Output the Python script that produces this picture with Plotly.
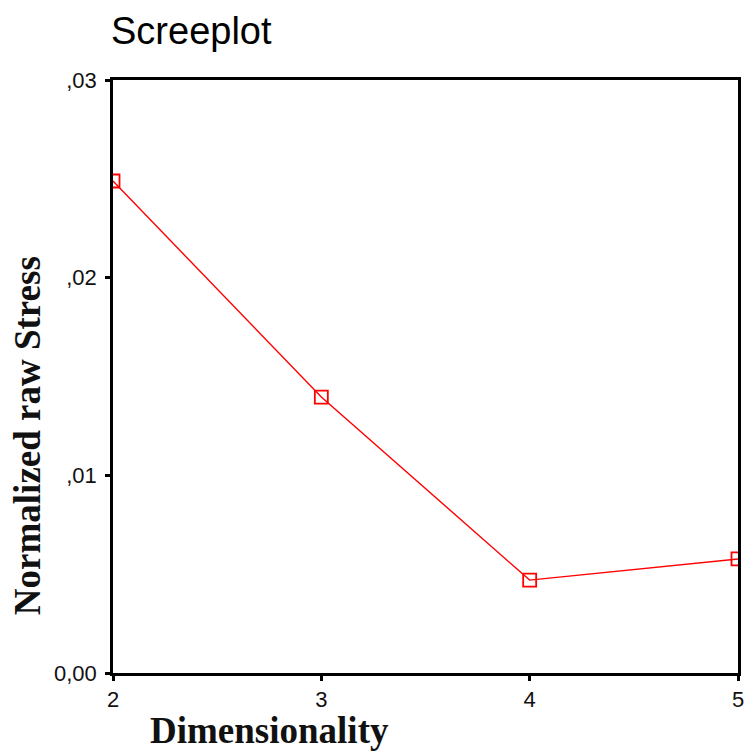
import plotly.graph_objects as go

dimensions = [2, 3, 4, 5]
stress = [0.02489, 0.01396, 0.00470, 0.00577]
y_tick_vals = [0.0, 0.01, 0.02, 0.03]
y_tick_text = ["0,00", ",01", ",02", ",03"]
x_tick_vals = [2, 3, 4, 5]
x_tick_text = ["2", "3", "4", "5"]

W, H = 744, 754

fig = go.Figure()
fig.add_trace(go.Scatter(
    x=dimensions, y=stress, mode="lines+markers",
    line=dict(color="#ff0000", width=1.4),
    marker=dict(symbol="square-open", size=13, color="#ff0000", line=dict(width=1.8, color="#ff0000")),
    cliponaxis=True, showlegend=False,
))

fig.update_layout(
    width=W, height=H,
    margin=dict(l=113, r=6, t=80, b=81, autoexpand=False),
    paper_bgcolor="white", plot_bgcolor="white",
    title=dict(text="Screeplot", font=dict(family="Arial, Liberation Sans", size=38, color="black"),
               xref="container", yref="container", x=111/W, xanchor="left", y=1-17/H, yanchor="top",
               pad=dict(t=0, b=0, l=0, r=0), automargin=False),
    xaxis=dict(range=[2, 5], tickvals=x_tick_vals, ticktext=x_tick_text, automargin=False,
               showgrid=False, zeroline=False, showline=True, linecolor="black", linewidth=2.5,
               mirror=True, ticks="outside", ticklen=5, tickwidth=3, tickcolor="black",
               ticklabeloverflow="allow",
               tickfont=dict(family="Arial, Liberation Sans", size=22, color="#111")),
    yaxis=dict(range=[0, 0.03], tickvals=y_tick_vals, ticktext=y_tick_text, automargin=False,
               showgrid=False, zeroline=False, showline=True, linecolor="black", linewidth=2.5,
               mirror=True, ticks="outside", ticklen=5, tickwidth=3, tickcolor="black",
               ticklabelstandoff=4, ticklabeloverflow="allow",
               tickfont=dict(family="Arial, Liberation Sans", size=22, color="#111")),
    annotations=[
        dict(text="<b>Normalized raw Stress</b>", textangle=-90, xref="paper", yref="paper",
             x=(27-113)/626, y=(673-436)/593, xanchor="center", yanchor="middle", showarrow=False,
             font=dict(family="Liberation Serif, Times New Roman", size=37, color="#111")),
        dict(text="<b>Dimensionality</b>", xref="paper", yref="paper",
             x=(270-113)/626, y=(673-730)/593, xanchor="center", yanchor="middle", showarrow=False,
             font=dict(family="Liberation Serif, Times New Roman", size=37, color="#111")),
    ],
)

fig.write_html(
    "out.html",
    config={"displayModeBar": False},
    post_script="document.body.style.margin='0';document.body.style.overflow='hidden';",
)
